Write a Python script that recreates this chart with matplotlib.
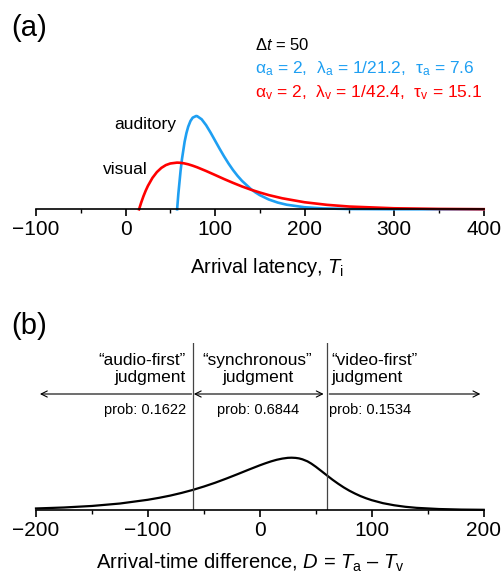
import matplotlib.pyplot as plt
from matplotlib.ticker import MultipleLocator

plt.rcParams['font.family'] = ['Liberation Sans', 'DejaVu Sans']
plt.rcParams['mathtext.fontset'] = 'custom'
plt.rcParams['mathtext.rm'] = 'Liberation Sans'
plt.rcParams['mathtext.it'] = 'Liberation Sans:italic'

BLUE = '#1E9FF2'
RED = '#FF0000'

# (a) arrival latency densities
aud_t = [57.6, 59, 61.5, 63, 66, 68, 70, 72.5, 75, 78.8, 80, 85, 90, 95,
         100, 105, 110, 115, 120, 125, 130, 140, 145, 150, 160, 170, 180,
         200, 220, 250, 300, 400]
aud_p = [0.0, 0.00292, 0.00722, 0.00931, 0.01258, 0.01417, 0.01537, 0.01642,
         0.01704, 0.01735, 0.01732, 0.01674, 0.01564, 0.01426, 0.01277,
         0.01128, 0.00985, 0.00852, 0.00731, 0.00624, 0.00530, 0.00376,
         0.00315, 0.00263, 0.00182, 0.00125, 0.00085, 0.00038, 0.00017,
         0.00005, 0.00001, 0.0]

vis_t = [15.1, 17.5, 20, 22.5, 25, 30, 35, 40, 45, 50, 57.5, 60, 65, 70, 75,
         80, 90, 100, 110, 120, 130, 140, 150, 160, 175, 200, 225, 250, 300,
         350, 400]
vis_p = [0.0, 0.00126, 0.00243, 0.00346, 0.00436, 0.00583, 0.00692, 0.00770,
         0.00822, 0.00852, 0.00868, 0.00866, 0.00856, 0.00837, 0.00811,
         0.00781, 0.00712, 0.00638, 0.00563, 0.00492, 0.00425, 0.00365,
         0.00312, 0.00264, 0.00205, 0.00131, 0.00083, 0.00051, 0.00019,
         0.00007, 0.00002]

# (b) arrival-time difference density
diff_d = [-200, -175, -150, -125, -100, -90, -80, -70, -60, -50, -40, -30,
          -20, -10, 0, 5, 10, 15, 20, 25, 28.4, 32, 35, 38, 42.5, 46, 50, 55,
          60, 65, 70, 75, 80, 85, 90, 95, 100, 110, 120, 130, 140, 160, 180,
          200]
diff_p = [0.00022, 0.00036, 0.00058, 0.00093, 0.00147, 0.00175, 0.00207,
          0.00245, 0.00288, 0.00337, 0.00391, 0.00451, 0.00514, 0.00579,
          0.00642, 0.00671, 0.00698, 0.00721, 0.00738, 0.00749, 0.00751,
          0.00748, 0.00741, 0.00728, 0.00699, 0.00666, 0.00621, 0.00559,
          0.00496, 0.00434, 0.00377, 0.00324, 0.00277, 0.00236, 0.00199,
          0.00168, 0.00141, 0.00098, 0.00068, 0.00046, 0.00031, 0.00014,
          0.00006, 0.00003]

window = [-60, 60]
probs = ['0.1622', '0.6844', '0.1534']

W, H = 503, 576
fig = plt.figure(figsize=(W / 100, H / 100), dpi=100)


def style_axis(ax, lo, hi):
    for s in ['top', 'left', 'right']:
        ax.spines[s].set_visible(False)
    ax.spines['bottom'].set_linewidth(1.2)
    ax.set_yticks([])
    ax.set_xlim(lo, hi)
    ax.xaxis.set_major_locator(MultipleLocator(100))
    ax.xaxis.set_minor_locator(MultipleLocator(50))
    ax.tick_params(axis='x', which='major', direction='out', length=5,
                   width=1.2, labelsize=15, pad=3)
    ax.tick_params(axis='x', which='minor', direction='out', length=3,
                   width=1.0)
    ax.patch.set_visible(False)


# panel (a)
ax1 = fig.add_axes([36 / W, 1 - 209.3 / H, 447.7 / W, 179.3 / H])
style_axis(ax1, -100, 400)
ax1.set_ylim(0, 0.01735 * 179.3 / 93.3)
ax1.plot(aud_t, aud_p, color=BLUE, lw=1.9, clip_on=False)
ax1.plot(vis_t, vis_p, color=RED, lw=1.9, clip_on=False)
ax1.set_xlabel('Arrival latency, $T_\\mathrm{i}$', fontsize=14.5, va='center')
ax1.xaxis.set_label_coords(0.516, -57.7 / 179.3)

fig.text(176 / W, 1 - 124 / H, 'auditory', ha='right', va='center', fontsize=12.5)
fig.text(148 / W, 1 - 169 / H, 'visual', ha='right', va='center', fontsize=12.5)
fig.text(255 / W, 1 - 45 / H, 'Δ$\\it{t}$ = 50', fontsize=12, va='center')
fig.text(255 / W, 1 - 69 / H,
         'α$_\\mathrm{a}$ = 2,  λ$_\\mathrm{a}$ = 1/21.2,  τ$_\\mathrm{a}$ = 7.6',
         fontsize=12.5, va='center', color=BLUE)
fig.text(255 / W, 1 - 93 / H,
         'α$_\\mathrm{v}$ = 2,  λ$_\\mathrm{v}$ = 1/42.4,  τ$_\\mathrm{v}$ = 15.1',
         fontsize=12.5, va='center', color=RED)
fig.text(11 / W, 1 - 28 / H, '(a)', fontsize=21, va='center')

# panel (b)
ax2 = fig.add_axes([36 / W, 1 - 510 / H, 447.7 / W, 167 / H])
style_axis(ax2, -200, 200)
top = 0.00751 * 167 / 52.3
ax2.set_ylim(0, top)
ax2.plot(diff_d, diff_p, color='black', lw=1.6, clip_on=False)
for w in window:
    ax2.axvline(w, color='#444444', lw=0.9)
ax2.set_xlabel('Arrival-time difference, $D$ = $T_\\mathrm{a}$ \u2013 $T_\\mathrm{v}$',
               fontsize=14.5, va='center')
ax2.xaxis.set_label_coords(0.478, -53 / 167)


def py(px):
    return (510 - px) / 167 * top


arr = dict(arrowstyle='->', lw=0.8, color='black', shrinkA=0, shrinkB=0,
           mutation_scale=11)
ax2.annotate('', xy=(-196.5, py(394)), xytext=(window[0] - 1, py(394)), arrowprops=arr)
ax2.annotate('', xy=(window[0] + 1, py(394)), xytext=(window[1] - 3, py(394)),
             arrowprops=dict(arr, arrowstyle='<->'))
ax2.annotate('', xy=(197, py(394)), xytext=(window[1] + 2, py(394)), arrowprops=arr)

jfs = 12.4
ax2.text(window[0] - 6, py(369), '\u201caudio-first\u201d\njudgment', ha='right',
         va='center', fontsize=jfs, linespacing=1.2)
ax2.text(-2, py(369), '\u201csynchronous\u201d\njudgment', ha='center',
         va='center', fontsize=jfs, linespacing=1.2)
ax2.text(window[1] + 4, py(369), '\u201cvideo-first\u201d\njudgment', ha='left',
         va='center', fontsize=jfs, linespacing=1.2)
pfs = 10.5
ax2.text(window[0] - 6, py(410), 'prob: ' + probs[0], ha='right', va='center', fontsize=pfs)
ax2.text(-2, py(410), 'prob: ' + probs[1], ha='center', va='center', fontsize=pfs)
ax2.text(window[1] + 2, py(410), 'prob: ' + probs[2], ha='left', va='center', fontsize=pfs)

fig.text(11 / W, 1 - 326 / H, '(b)', fontsize=21, va='center')

fig.savefig('out.png', dpi=100)
